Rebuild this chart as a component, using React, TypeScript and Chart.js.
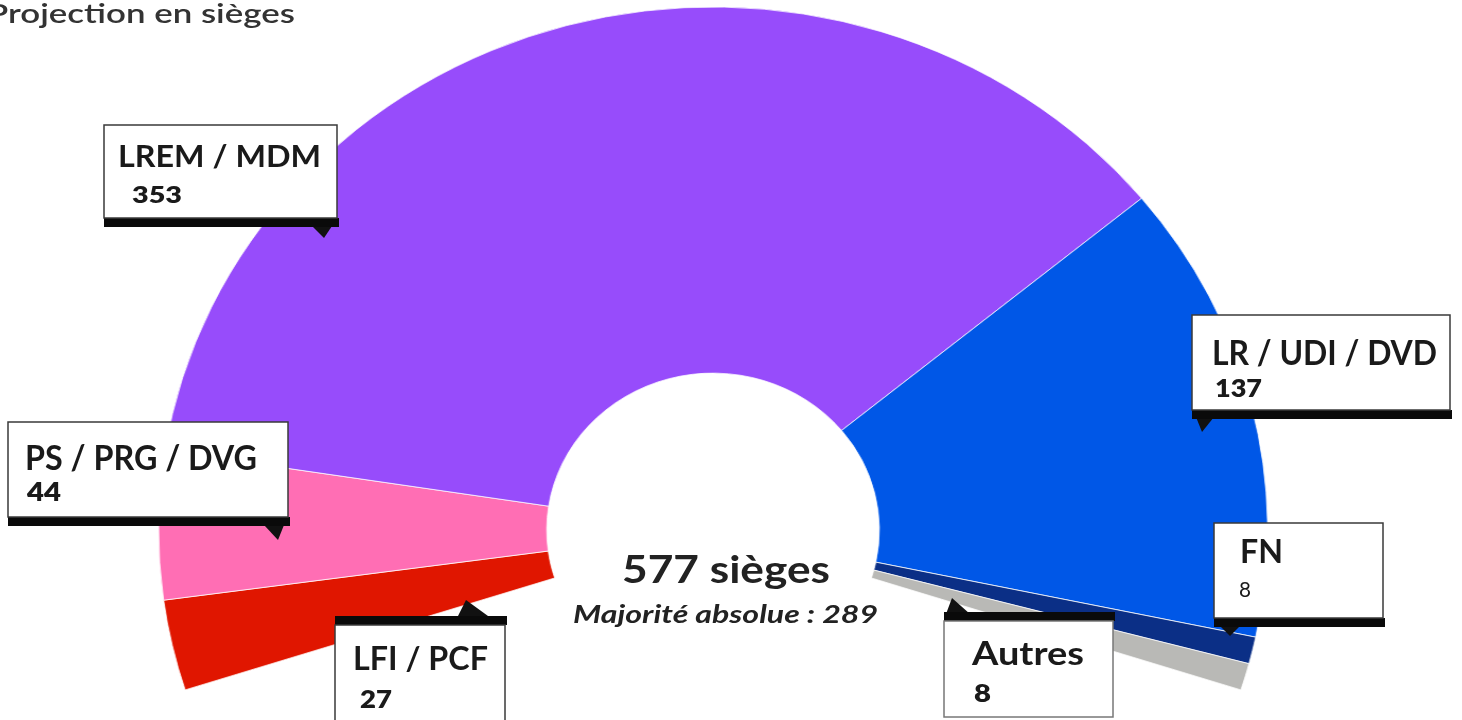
import React, { useEffect, useRef } from "react";
import { Chart, registerables } from "chart.js";

Chart.register(...registerables);

// ---- data ----
const parties = ["LFI / PCF", "PS / PRG / DVG", "LREM / MDM", "LR / UDI / DVD", "FN", "Autres"];
const seats = [27, 44, 353, 137, 8, 8];
const partyColors = ["#e01600", "#ff6eb4", "#974cfb", "#0057e7", "#0b2f86", "#b9b9b6"];
const titleText = "Projection en sièges";
const seatsWord = "sièges";
const majorityWord = "Majorité absolue";

// ---- geometry / layout (not data) ----
const W = 1462;
const H = 720;
const CX = 713; // hemicycle centre (final picture)
const CY = 530;
const SX = 1.06; // horizontal stretch of the original picture
const R = 523; // outer radius
const BELOW = 17.8; // degrees the arc runs below the horizontal on both sides
const offY = ((1 - Math.sin((BELOW * Math.PI) / 180)) / 2) * R;
const padBottom = H - 2 * (CY - offY);
const padRight = W - 2 * CX;

const FONT = "Lato, 'Open Sans', 'DejaVu Sans', sans-serif";
const INK = "#1a1a1a";

type Lay = {
  box: [number, number, number, number]; // x1,y1,x2,y2 of white area
  bar: "top" | "bottom";
  ptr: [number, number][];
  nx: number; ny: number; ns: number; nw: number;
  vx: number; vy: number; vs: number; vw: number; vb: boolean;
  stroke?: string;
};

const labelLayout: Lay[] = [
  { box: [335, 625, 505, 740], bar: "top", ptr: [[458, 616], [488, 616], [466, 600]], nx: 353, ny: 670, ns: 32, nw: 135, vx: 360, vy: 708, vs: 25, vw: 32, vb: true },
  { box: [8, 422, 288, 517], bar: "bottom", ptr: [[264, 525], [284, 525], [278, 540]], nx: 25, ny: 470, ns: 34, nw: 232, vx: 27, vy: 501, vs: 26, vw: 34, vb: true },
  { box: [104, 125, 337, 218], bar: "bottom", ptr: [[312, 226], [332, 226], [324, 238]], nx: 118, ny: 167, ns: 30, nw: 203, vx: 132, vy: 203, vs: 23, vw: 50, vb: true },
  { box: [1192, 315, 1450, 410], bar: "bottom", ptr: [[1196, 417], [1214, 417], [1202, 432]], nx: 1212, ny: 365, ns: 35, nw: 225, vx: 1215, vy: 397, vs: 25, vw: 47, vb: true },
  { box: [1214, 523, 1383, 618], bar: "bottom", ptr: [[1220, 626], [1240, 626], [1230, 636]], nx: 1240, ny: 563, ns: 32, nw: 43, vx: 1239, vy: 597, vs: 22, vw: 12, vb: false },
  { box: [944, 621, 1113, 717], bar: "top", ptr: [[946, 614], [970, 614], [952, 598]], nx: 972, ny: 665, ns: 33, nw: 112, vx: 974, vy: 702, vs: 25, vw: 17, vb: true, stroke: "#777" },
];

function Callout({ lay, name, value }: { lay: Lay; name: string; value: number }) {
  const [x1, y1, x2, y2] = lay.box;
  const barH = 9;
  const barY = lay.bar === "top" ? y1 - barH : y2;
  return (
    <g>
      <polygon points={lay.ptr.map((p) => p.join(",")).join(" ")} fill="#111" />
      <rect x={x1} y={barY} width={x2 - x1 + 2} height={barH} fill="#0a0a0a" />
      <rect x={x1} y={y1} width={x2 - x1} height={y2 - y1} fill="#fff" stroke={lay.stroke || "#3a3a3a"} strokeWidth={1.5} />
      <text x={lay.nx} y={lay.ny} fontFamily={FONT} fontSize={lay.ns} fontWeight={700} fill={INK} textLength={lay.nw} lengthAdjust="spacingAndGlyphs">
        {name}
      </text>
      <text x={lay.vx} y={lay.vy} fontFamily={FONT} fontSize={lay.vs} fontWeight={lay.vb ? 800 : 400} fill={INK} textLength={lay.vw} lengthAdjust="spacingAndGlyphs">
        {String(value)}
      </text>
    </g>
  );
}

export default function App() {
  const ref = useRef<HTMLCanvasElement | null>(null);

  useEffect(() => {
    if (!ref.current) return;
    const chart = new Chart(ref.current, {
      type: "doughnut",
      data: {
        labels: parties,
        datasets: [
          {
            data: seats,
            backgroundColor: partyColors,
            borderColor: "rgba(255,255,255,0.75)",
            borderWidth: 1,
          },
        ],
      },
      options: {
        responsive: false,
        animation: false,
        devicePixelRatio: 1,
        rotation: 270 - BELOW,
        circumference: 180 + 2 * BELOW,
        cutout: "30%",
        radius: R,
        layout: { padding: { left: 0, right: padRight, top: 0, bottom: padBottom } },
        events: [],
        plugins: { legend: { display: false }, tooltip: { enabled: false }, title: { display: false } },
      } as any,
    });
    return () => chart.destroy();
  }, []);

  const total = seats.reduce((a, b) => a + b, 0);
  const majority = Math.floor(total / 2) + 1;

  return (
    <div style={{ position: "fixed", left: 0, top: 0, width: W, height: H, overflow: "hidden", background: "#fff" }}>
      <canvas
        ref={ref}
        width={W}
        height={H}
        style={{
          position: "absolute",
          left: 0,
          top: 0,
          width: W,
          height: H,
          transform: `scaleX(${SX})`,
          transformOrigin: `${CX}px 0px`,
        }}
      />
      <svg width={W} height={H} style={{ position: "absolute", left: 0, top: 0 }}>
        <text x={-13} y={23} fontFamily={FONT} fontSize={27} fontWeight={600} fill="#333" textLength={308} lengthAdjust="spacingAndGlyphs">
          {titleText}
        </text>
        <text x={622} y={583} fontFamily={FONT} fontSize={38} fontWeight={700} fill="#222" textLength={208} lengthAdjust="spacingAndGlyphs">
          {`${total} ${seatsWord}`}
        </text>
        <text x={573} y={623} fontFamily={FONT} fontSize={24} fontWeight={700} fontStyle="italic" fill="#222" textLength={305} lengthAdjust="spacingAndGlyphs">
          {`${majorityWord} : ${majority}`}
        </text>
        {labelLayout.map((lay, i) => (
          <Callout key={parties[i]} lay={lay} name={parties[i]} value={seats[i]} />
        ))}
      </svg>
    </div>
  );
}
